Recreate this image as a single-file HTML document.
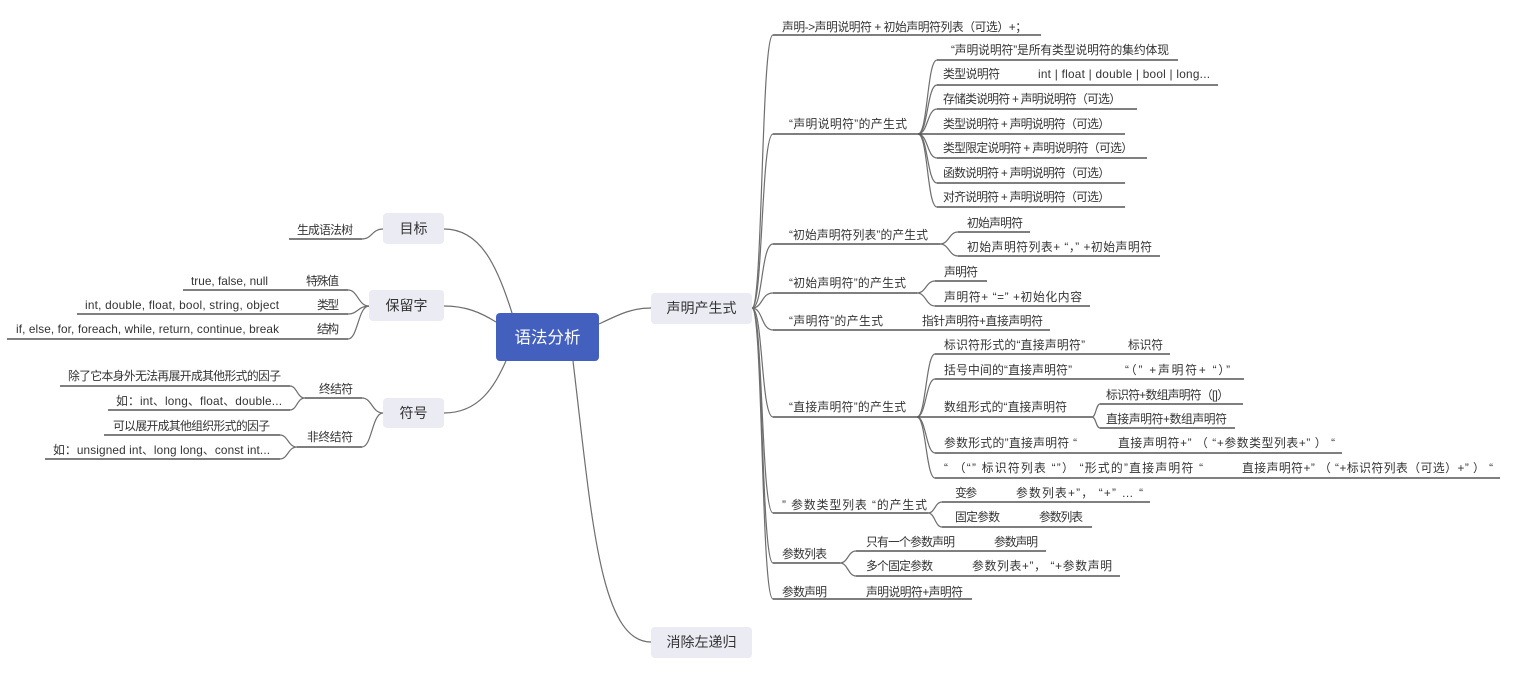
<!DOCTYPE html>
<html><head><meta charset="utf-8">
<style>
html,body{margin:0;padding:0;background:#fff;}
svg{display:block;}
text{font-family:"Liberation Sans","Noto Sans CJK SC",sans-serif;fill:#333;}
.t{font-size:11.8px;}
.c{stroke:#6e6e6e;stroke-width:1.2;fill:none;}
.u{stroke:#555;stroke-width:1.5;fill:none;}
</style></head>
<body>
<svg width="1520" height="677" viewBox="0 0 1520 677" xmlns="http://www.w3.org/2000/svg">
<!-- main connectors -->
<path class="c" d="M512,313 C497,265 480,229 444,229"/>
<path class="c" d="M496,322 C480,312 465,306 444,306"/>
<path class="c" d="M506,361 C495,385 480,413 444,413"/>
<path class="c" d="M599,324 C620,314 632,308 651,308"/>
<path class="c" d="M573,361 C592,520 600,642 651,642"/>

<!-- nodes -->
<rect x="496" y="313" width="103" height="48" rx="4" fill="#4360be"/>
<text x="547.5" y="343" text-anchor="middle" style="font-size:16.5px;fill:#fff">语法分析</text>

<rect x="651" y="293" width="101" height="31" rx="4" fill="#ebebf4"/>
<text x="701.5" y="313" text-anchor="middle" style="font-size:14px">声明产生式</text>

<rect x="651" y="627" width="101" height="31" rx="4" fill="#ebebf4"/>
<text x="701.5" y="647" text-anchor="middle" style="font-size:14px">消除左递归</text>

<rect x="383" y="213" width="61" height="31" rx="4" fill="#ebebf4"/>
<text x="413.5" y="233.5" text-anchor="middle" style="font-size:14px">目标</text>

<rect x="369" y="290" width="75" height="31" rx="4" fill="#ebebf4"/>
<text x="406.5" y="310.5" text-anchor="middle" style="font-size:14px">保留字</text>

<rect x="383" y="398" width="61" height="30" rx="4" fill="#ebebf4"/>
<text x="413.5" y="418" text-anchor="middle" style="font-size:14px">符号</text>

<!-- LEFT: 目标 -->
<path class="c" d="M383,229 C372,229 372,239 362,239"/>
<path class="u" d="M289,239 L362,239"/>
<text class="t" x="297" y="234" textLength="56">生成语法树</text>

<!-- LEFT: 保留字 -->
<path class="c" d="M369,306 C358,306 358,290 348,290"/>
<path class="c" d="M369,306 C358,306 358,314 348,314"/>
<path class="c" d="M369,306 C358,306 358,339 348,339"/>
<path class="u" d="M183,290 L348,290"/>
<path class="u" d="M77,314 L348,314"/>
<path class="u" d="M7,339 L348,339"/>
<text class="t" x="306" y="285" textLength="33">特殊值</text>
<text class="t" x="317" y="309" textLength="22">类型</text>
<text class="t" x="317" y="333" textLength="22">结构</text>
<text class="t" x="191" y="285" textLength="77">true, false, null</text>
<text class="t" x="85" y="309" textLength="194">int, double, float, bool, string, object</text>
<text class="t" x="16" y="333" textLength="263">if, else, for, foreach, while, return, continue, break</text>

<!-- LEFT: 符号 -->
<path class="c" d="M383,413 C372,413 372,398 362,398"/>
<path class="c" d="M383,413 C372,413 372,447 362,447"/>
<path class="u" d="M305,398 L362,398"/>
<path class="u" d="M297,447 L362,447"/>
<text class="t" x="319" y="393" textLength="34">终结符</text>
<text class="t" x="307" y="441" textLength="46">非终结符</text>
<path class="c" d="M305,398 C297,398 297,386 290,386"/>
<path class="c" d="M305,398 C297,398 297,410 290,410"/>
<path class="u" d="M60,386 L290,386"/>
<path class="u" d="M108,410 L290,410"/>
<text class="t" x="68" y="380" textLength="213">除了它本身外无法再展开成其他形式的因子</text>
<text class="t" x="116" y="405" textLength="166">如：int、long、float、double...</text>
<path class="c" d="M297,447 C288,447 288,435 280,435"/>
<path class="c" d="M297,447 C288,447 288,459 280,459"/>
<path class="u" d="M104,435 L280,435"/>
<path class="u" d="M45,459 L280,459"/>
<text class="t" x="113" y="430" textLength="157">可以展开成其他组织形式的因子</text>
<text class="t" x="53" y="454" textLength="217">如：unsigned int、long long、const int...</text>

<!-- RIGHT trunk -->
<path class="c" d="M752,308 C763,308 761,35 773,35"/>
<path class="c" d="M752,308 C763,308 761,134 773,134"/>
<path class="c" d="M752,308 C763,308 761,244 773,244"/>
<path class="c" d="M752,308 C763,308 761,293 773,293"/>
<path class="c" d="M752,308 C763,308 761,330 773,330"/>
<path class="c" d="M752,308 C763,308 761,417 773,417"/>
<path class="c" d="M752,308 C763,308 761,513 773,513"/>
<path class="c" d="M752,308 C763,308 761,563 773,563"/>
<path class="c" d="M752,308 C763,308 761,599 773,599"/>

<!-- level 2 -->
<path class="u" d="M773,35 L1041,35"/>
<text class="t" x="782" y="31" textLength="245">声明-&gt;声明说明符 + 初始声明符列表（可选）+；</text>
<path class="u" d="M773,134 L918,134"/>
<text class="t" x="789" y="128" textLength="118">“声明说明符”的产生式</text>
<path class="u" d="M773,244 L940,244"/>
<text class="t" x="789" y="239" textLength="139">“初始声明符列表”的产生式</text>
<path class="u" d="M773,293 L917,293"/>
<text class="t" x="789" y="287" textLength="117">“初始声明符”的产生式</text>
<path class="u" d="M773,330 L1050,330"/>
<text class="t" x="789" y="325" textLength="94">“声明符”的产生式</text>
<text class="t" x="922" y="325" textLength="121">指针声明符+直接声明符</text>
<path class="u" d="M773,417 L917,417"/>
<text class="t" x="789" y="411" textLength="117">“直接声明符”的产生式</text>
<path class="u" d="M773,513 L928,513"/>
<text class="t" x="782" y="509" textLength="145">” 参数类型列表 “的产生式</text>
<path class="u" d="M773,563 L840,563"/>
<text class="t" x="782" y="558" textLength="45">参数列表</text>
<path class="u" d="M773,599 L972,599"/>
<text class="t" x="782" y="596" textLength="45">参数声明</text>
<text class="t" x="866" y="596" textLength="97">声明说明符+声明符</text>

<!-- level 3: 声明说明符 -->
<path class="c" d="M918,134 C928,134 927,60 937,60"/>
<path class="c" d="M918,134 C928,134 927,85 937,85"/>
<path class="c" d="M918,134 C928,134 927,109 937,109"/>
<path class="c" d="M918,134 C928,134 927,158 937,158"/>
<path class="c" d="M918,134 C928,134 927,183 937,183"/>
<path class="c" d="M918,134 C928,134 927,207 937,207"/>
<path class="u" d="M937,60 L1178,60"/>
<path class="u" d="M937,85 L1218,85"/>
<path class="u" d="M937,109 L1137,109"/>
<path class="u" d="M918,134 L1125,134"/>
<path class="u" d="M937,158 L1147,158"/>
<path class="u" d="M937,183 L1125,183"/>
<path class="u" d="M937,207 L1125,207"/>
<text class="t" x="951" y="54" textLength="218">“声明说明符”是所有类型说明符的集约体现</text>
<text class="t" x="943" y="78" textLength="57">类型说明符</text>
<text class="t" x="1038" y="78" textLength="172">int | float | double | bool | long...</text>
<text class="t" x="943" y="103" textLength="178">存储类说明符 + 声明说明符（可选）</text>
<text class="t" x="943" y="128" textLength="167">类型说明符 + 声明说明符（可选）</text>
<text class="t" x="943" y="152" textLength="190">类型限定说明符 + 声明说明符（可选）</text>
<text class="t" x="943" y="177" textLength="167">函数说明符 + 声明说明符（可选）</text>
<text class="t" x="943" y="201" textLength="167">对齐说明符 + 声明说明符（可选）</text>

<!-- level 3: 初始声明符列表 -->
<path class="c" d="M940,244 C949,244 949,232 958,232"/>
<path class="c" d="M940,244 C949,244 949,256 958,256"/>
<path class="u" d="M958,232 L1030,232"/>
<path class="u" d="M958,256 L1160,256"/>
<text class="t" x="967" y="227" textLength="56">初始声明符</text>
<text class="t" x="967" y="251" textLength="185">初始声明符列表+ “，” +初始声明符</text>

<!-- level 3: 初始声明符 -->
<path class="c" d="M917,293 C926,293 926,281 935,281"/>
<path class="c" d="M917,293 C926,293 926,306 935,306"/>
<path class="u" d="M935,281 L987,281"/>
<path class="u" d="M935,306 L1090,306"/>
<text class="t" x="944" y="276" textLength="34">声明符</text>
<text class="t" x="944" y="301" textLength="138">声明符+ “=” +初始化内容</text>

<!-- level 3: 直接声明符 -->
<path class="c" d="M917,417 C926,417 926,354 935,354"/>
<path class="c" d="M917,417 C926,417 926,379 935,379"/>
<path class="c" d="M917,417 C926,417 926,453 935,453"/>
<path class="c" d="M917,417 C926,417 926,478 935,478"/>
<path class="u" d="M935,354 L1170,354"/>
<path class="u" d="M935,379 L1244,379"/>
<path class="u" d="M917,417 L1092,417"/>
<path class="u" d="M935,453 L1342,453"/>
<path class="u" d="M935,478 L1500,478"/>
<text class="t" x="944" y="349" textLength="141">标识符形式的“直接声明符”</text>
<text class="t" x="1128" y="349" textLength="35">标识符</text>
<text class="t" x="944" y="374" textLength="128">括号中间的“直接声明符”</text>
<text class="t" x="1125" y="374" textLength="105">“（” +声明符+ “）”</text>
<text class="t" x="944" y="411" textLength="123">数组形式的“直接声明符</text>
<path class="c" d="M1092,417 C1096,417 1096,404 1100,404"/>
<path class="c" d="M1092,417 C1096,417 1096,428 1100,428"/>
<path class="u" d="M1100,404 L1243,404"/>
<path class="u" d="M1100,428 L1235,428"/>
<text class="t" x="1106" y="399" textLength="123">标识符+数组声明符（[]）</text>
<text class="t" x="1106" y="423" textLength="121">直接声明符+数组声明符</text>
<text class="t" x="944" y="447" textLength="133">参数形式的”直接声明符 “</text>
<text class="t" x="1118" y="447" textLength="217">直接声明符+” （ “+参数类型列表+” ） “</text>
<text class="t" x="944" y="472" textLength="259">“ （“” 标识符列表 “”） “形式的”直接声明符 “</text>
<text class="t" x="1242" y="472" textLength="251">直接声明符+” （ “+标识符列表（可选）+” ） “</text>

<!-- level 3: 参数类型列表 -->
<path class="c" d="M928,513 C935,513 935,502 942,502"/>
<path class="c" d="M928,513 C935,513 935,527 942,527"/>
<path class="u" d="M942,502 L1150,502"/>
<path class="u" d="M942,527 L1092,527"/>
<text class="t" x="955" y="497" textLength="22">变参</text>
<text class="t" x="1016" y="497" textLength="127">参数列表+”， “+” … “</text>
<text class="t" x="955" y="521" textLength="45">固定参数</text>
<text class="t" x="1039" y="521" textLength="44">参数列表</text>

<!-- level 3: 参数列表 -->
<path class="c" d="M840,563 C848,563 848,551 856,551"/>
<path class="c" d="M840,563 C848,563 848,576 856,576"/>
<path class="u" d="M856,551 L1046,551"/>
<path class="u" d="M856,576 L1120,576"/>
<text class="t" x="866" y="546" textLength="89">只有一个参数声明</text>
<text class="t" x="994" y="546" textLength="44">参数声明</text>
<text class="t" x="866" y="570" textLength="67">多个固定参数</text>
<text class="t" x="972" y="570" textLength="140">参数列表+”， “+参数声明</text>
</svg>
</body></html>
